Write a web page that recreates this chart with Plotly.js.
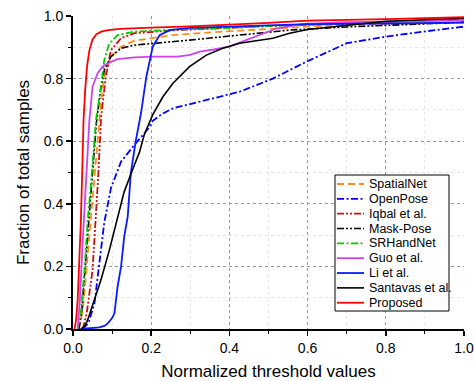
<!DOCTYPE html>
<html>
<head>
<meta charset="utf-8">
<script src="https://cdn.plot.ly/plotly-3.0.1.min.js"></script>
<style>html,body{margin:0;padding:0;background:#fff;}#chart{width:474px;height:381px;}</style>
</head>
<body>
<div id="chart"></div>
<script>
// ---- data ----
const names = ['SpatialNet','OpenPose','Iqbal et al.','Mask-Pose','SRHandNet','Guo et al.','Li et al.','Santavas et al.','Proposed'];

const spatialX = [0.015,0.025,0.035,0.045,0.055,0.065,0.072,0.08,0.097,0.123,0.157,0.216,0.255,0.383,0.554,0.6,0.8,1.0];
const spatialY = [0,0.06,0.2,0.35,0.5,0.64,0.73,0.806,0.87,0.902,0.921,0.932,0.939,0.95,0.964,0.966,0.974,0.98];

const openposeX = [0.025,0.04,0.055,0.067,0.08,0.097,0.123,0.157,0.191,0.204,0.229,0.2556,0.341,0.426,0.511,0.597,0.7,0.8,0.895,1.0];
const openposeY = [0,0.02,0.083,0.21,0.34,0.45,0.535,0.588,0.638,0.665,0.688,0.705,0.732,0.758,0.8,0.854,0.913,0.934,0.95,0.966];

const iqbalX = [0.025,0.035,0.05,0.058,0.065,0.072,0.084,0.097,0.123,0.157,0.268,0.4,0.5,0.7,0.85,1.0];
const iqbalY = [0,0.05,0.188,0.34,0.5,0.68,0.806,0.891,0.929,0.945,0.955,0.962,0.968,0.976,0.982,0.99];

const maskX = [0.015,0.022,0.03,0.04,0.05,0.06,0.07,0.08,0.097,0.123,0.157,0.208,0.268,0.298,0.426,0.554,0.7,0.85,1.0];
const maskY = [0,0.05,0.18,0.35,0.52,0.66,0.76,0.827,0.87,0.897,0.907,0.913,0.918,0.923,0.939,0.955,0.965,0.972,0.98];

const srX = [0.012,0.02,0.03,0.0376,0.045,0.052,0.059,0.0716,0.08,0.093,0.114,0.157,0.268,0.4,0.5,0.7,0.85,1.0];
const srY = [0,0.05,0.2,0.348,0.45,0.56,0.67,0.774,0.86,0.913,0.939,0.95,0.957,0.962,0.968,0.976,0.982,0.99];

const guoX = [0.012,0.018,0.024,0.028,0.034,0.042,0.05,0.063,0.075,0.089,0.114,0.157,0.2,0.268,0.3,0.324,0.36,0.4,0.426,0.48,0.52,0.589,0.7,0.85,1.0];
const guoY = [0,0.1,0.26,0.35,0.5,0.668,0.774,0.817,0.838,0.849,0.862,0.868,0.87,0.87,0.876,0.886,0.893,0.902,0.915,0.94,0.96,0.975,0.98,0.983,0.986];

const liX = [0.02,0.05,0.067,0.08,0.089,0.1,0.106,0.114,0.123,0.131,0.14,0.148,0.161,0.174,0.1876,0.204,0.2216,0.247,0.3,0.4,0.6,0.8,1.0];
const liY = [0,0.002,0.005,0.01,0.018,0.035,0.05,0.135,0.2,0.295,0.36,0.5,0.604,0.69,0.806,0.902,0.939,0.955,0.962,0.966,0.974,0.976,0.979];

const santX = [0.02,0.03,0.0376,0.05,0.06,0.0716,0.093,0.11,0.131,0.157,0.17,0.182,0.204,0.23,0.2556,0.298,0.341,0.383,0.426,0.511,0.554,0.6,0.7,0.8,0.9,1.0];
const santY = [0,0.01,0.029,0.077,0.115,0.157,0.252,0.34,0.439,0.524,0.565,0.62,0.685,0.742,0.785,0.838,0.875,0.897,0.913,0.929,0.945,0.957,0.97,0.983,0.988,0.993];

const propX = [0.004,0.008,0.012,0.016,0.02,0.024,0.027,0.031,0.036,0.042,0.05,0.06,0.072,0.09,0.12,0.2,0.3,0.5,0.6,0.8,1.0];
const propY = [0,0.03,0.093,0.2,0.34,0.52,0.67,0.76,0.84,0.891,0.925,0.942,0.95,0.955,0.959,0.963,0.967,0.978,0.985,0.99,0.996];

const xTickVals = [0,0.2,0.4,0.6,0.8,1.0];
const xTickText = ['0.0','0.2','0.4','0.6','0.8','1.0'];
const yTickVals = [0,0.2,0.4,0.6,0.8,1.0];
const yTickText = ['0.0','0.2','0.4','0.6','0.8','1.0'];

// ---- styles ----
const styles = [
  {color:'#ff8c1a', dash:'7px,4px', width:1.8},
  {color:'#0000ff', dash:'7px,2.5px,2px,2.5px', width:1.8},
  {color:'#cc1010', dash:'7px,2px,2px,2px,2px,2px', width:1.8},
  {color:'#000000', dash:'7px,2px,2px,2px,2px,2px', width:1.6},
  {color:'#00cc00', dash:'7px,2.5px,2px,2.5px', width:1.8},
  {color:'#cc44ee', dash:'solid', width:1.8},
  {color:'#0a1aff', dash:'solid', width:1.8},
  {color:'#000000', dash:'solid', width:1.6},
  {color:'#ff0000', dash:'solid', width:1.8}
];
const xs = [spatialX, openposeX, iqbalX, maskX, srX, guoX, liX, santX, propX];
const ys = [spatialY, openposeY, iqbalY, maskY, srY, guoY, liY, santY, propY];

const traces = names.map((n,i)=>({
  x: xs[i], y: ys[i], name: n, type:'scatter', mode:'lines',
  line:{color:styles[i].color, dash:styles[i].dash, width:styles[i].width},
  hoverinfo:'skip'
}));

// ---- custom legend (pixel layout -> paper coords) ----
const L=73, R=464, T=16, B=329;
const px = v => (v-L)/(R-L);
const py = v => (B-v)/(B-T);
const shapes = [{type:'rect', xref:'paper', yref:'paper', x0:px(335), x1:px(449), y0:py(175), y1:py(311),
  line:{color:'#000', width:1}, fillcolor:'#fff', layer:'above'}];
const annotations = [];
names.forEach((n,i)=>{
  const yy = 184 + i*14.84;
  shapes.push({type:'line', xref:'paper', yref:'paper', x0:px(337), x1:px(364), y0:py(yy), y1:py(yy),
    line:{color:styles[i].color, dash:styles[i].dash, width:styles[i].width}, layer:'above'});
  annotations.push({xref:'paper', yref:'paper', x:px(367), y:py(yy), xanchor:'left', yanchor:'middle',
    text:n, showarrow:false, font:{size:12.5, color:'#000'}});
});

const axisCommon = {
  range:[0,1.0], ticks:'outside', ticklen:5, tickwidth:1.5, tickcolor:'#000',
  showline:true, linewidth:2, linecolor:'#000', zeroline:false,
  showgrid:true, gridcolor:'#9a9a9a', griddash:'dot', gridwidth:1,
  tickfont:{size:14, color:'#000'},
  minor:{dtick:0.1, ticks:'outside', ticklen:3, tickcolor:'#000', tickwidth:1, showgrid:true, gridcolor:'#e6e6e6', gridwidth:1}
};

const layout = {
  width:474, height:381,
  margin:{l:73, r:10, t:16, b:52},
  paper_bgcolor:'#fff', plot_bgcolor:'#fff',
  font:{family:'"Liberation Sans", Arial, sans-serif', color:'#000'},
  showlegend:false,
  xaxis:Object.assign({}, axisCommon, {tickmode:'array', tickvals:xTickVals, ticktext:xTickText,
    title:{text:'Normalized threshold values', font:{size:17}, standoff:10}}),
  yaxis:Object.assign({}, axisCommon, {tickmode:'array', tickvals:yTickVals, ticktext:yTickText,
    title:{text:'Fraction of total samples', font:{size:17}, standoff:10}}),
  shapes:shapes, annotations:annotations
};

Plotly.newPlot('chart', traces, layout, {staticPlot:true, displayModeBar:false});
</script>
</body>
</html>
